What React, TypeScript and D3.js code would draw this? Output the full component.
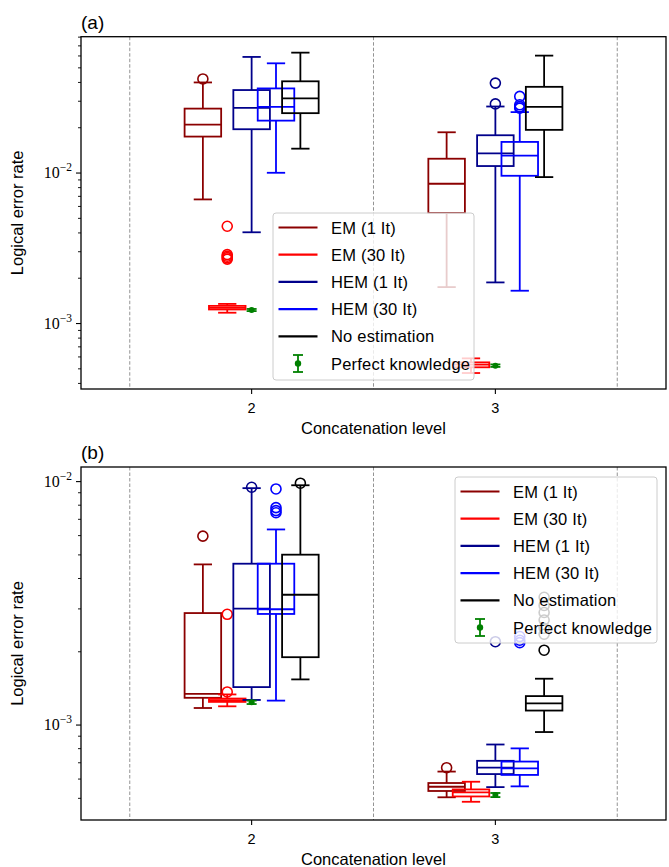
import React from 'react';
import * as d3 from 'd3';

const W = 669;
const H = 867;

const levels = [2, 3];
const levelTickLabels = ['2', '3'];
const separators = [1.5, 2.5, 3.5];
const seriesNames = ['EM (1 It)', 'EM (30 It)', 'HEM (1 It)', 'HEM (30 It)', 'No estimation'];
const seriesColors = ['#8b0000', '#ff0000', '#00008b', '#0000ff', '#000000'];
const seriesOffsets = [-0.2, -0.1, 0, 0.1, 0.2];
const perfectLabel = 'Perfect knowledge';
const perfectColor = '#008000';
const xLabel = 'Concatenation level';
const yLabel = 'Logical error rate';

// [series][level] = [whisker low, q1, median, q3, whisker high]
const statsA: number[][][] = [
  [[0.00668, 0.01747, 0.0210, 0.0268, 0.0400], [0.001746, 0.00543, 0.00849, 0.01245, 0.01866]],
  [[0.00118, 0.00124, 0.00127, 0.00131, 0.00135], [0.000469, 0.000512, 0.000533, 0.000552, 0.000587]],
  [[0.00404, 0.01955, 0.0271, 0.0356, 0.0591], [0.001876, 0.01113, 0.01352, 0.01783, 0.02768]],
  [[0.01004, 0.0223, 0.0275, 0.0365, 0.0536], [0.001652, 0.00959, 0.01304, 0.0161, 0.0254]],
  [[0.01452, 0.0250, 0.0313, 0.0407, 0.0631], [0.0094, 0.01936, 0.0275, 0.0374, 0.0603]],
];
const fliersA: number[][][] = [
  [[0.0422], []],
  [[0.00443, 0.00287, 0.0028, 0.00274, 0.00268], []],
  [[], [0.0396, 0.0288]],
  [[], [0.0323, 0.0284, 0.0276, 0.027]],
  [[], []],
];
const perfectA = [0.00123, 0.000525];
const perfectErrA = [0.00002, 0.00001];

const statsB: number[][][] = [
  [[0.001175, 0.001294, 0.001343, 0.002884, 0.00457], [0.000505, 0.000536, 0.000558, 0.000578, 0.000644]],
  [[0.001194, 0.001245, 0.001265, 0.001285, 0.001336], [0.000484, 0.000509, 0.000529, 0.000544, 0.000585]],
  [[0.001268, 0.001432, 0.00301, 0.0046, 0.0094], [0.000556, 0.000629, 0.000668, 0.000713, 0.000832]],
  [[0.00126, 0.00286, 0.00299, 0.0046, 0.00636], [0.00056, 0.000624, 0.000664, 0.000708, 0.000802]],
  [[0.00154, 0.0019, 0.00343, 0.00501, 0.00966], [0.000936, 0.001147, 0.001228, 0.001315, 0.00155]],
];
const fliersB: number[][][] = [
  [[0.00597], [0.000668]],
  [[0.00285, 0.001368], []],
  [[0.00948], [0.0022]],
  [[0.00933, 0.00782, 0.0076, 0.00745], [0.00231, 0.00223, 0.00218]],
  [[0.00985], [0.00203, 0.00236, 0.0025, 0.0027, 0.0029, 0.0031, 0.00335]],
];
const perfectB = [0.00124, 0.000516];
const perfectErrB = [0.00002, 0.00001];

const SANS = "'Liberation Sans', 'Open Sans', sans-serif";
const SERIF = "'Liberation Serif', 'DejaVu Serif', serif";

type PanelProps = {
  label: string;
  top: number;
  bottom: number;
  yDomain: [number, number];
  stats: number[][][];
  fliers: number[][][];
  perfect: number[];
  perfectErr: number[];
  legend: { x: number; y: number; w: number; h: number };
};

const LEFT = 81;
const RIGHT = 666;

function Panel(p: PanelProps) {
  const x = d3.scaleLinear().domain([1.3, 3.7]).range([LEFT, RIGHT]);
  const y = d3.scaleLog().domain(p.yDomain).range([p.bottom, p.top]);
  const boxW = x(1.3 + 0.15) - x(1.3);
  const capW = boxW / 2;
  const lw = 1.8;

  const [d0, d1] = p.yDomain;
  const majors: number[] = [];
  const minors: number[] = [];
  for (let e = Math.floor(Math.log10(d0)); e <= Math.ceil(Math.log10(d1)); e++) {
    for (let k = 1; k <= 9; k++) {
      const v = k * Math.pow(10, e);
      if (v >= d0 && v <= d1) (k === 1 ? majors : minors).push(v);
    }
  }

  const legendRows = [...seriesNames, perfectLabel];

  return (
    <g>
      <text x={LEFT} y={p.top - 8} fontFamily={SANS} fontSize={19}>{p.label}</text>
      {separators.map((s, i) => (
        <line key={i} x1={x(s)} x2={x(s)} y1={p.top} y2={p.bottom} stroke="#888" strokeWidth={0.9} strokeDasharray="3.5,2" />
      ))}
      {p.stats.map((ser, si) =>
        ser.map((st, li) => {
          const cx = x(levels[li] + seriesOffsets[si]);
          const [lo, q1, med, q3, hi] = st;
          const c = seriesColors[si];
          return (
            <g key={`${si}-${li}`} stroke={c} strokeWidth={lw} fill="none">
              <line x1={cx} x2={cx} y1={y(q3)} y2={y(hi)} />
              <line x1={cx} x2={cx} y1={y(q1)} y2={y(lo)} />
              <line x1={cx - capW / 2} x2={cx + capW / 2} y1={y(hi)} y2={y(hi)} />
              <line x1={cx - capW / 2} x2={cx + capW / 2} y1={y(lo)} y2={y(lo)} />
              <rect x={cx - boxW / 2} y={y(q3)} width={boxW} height={y(q1) - y(q3)} />
              <line x1={cx - boxW / 2} x2={cx + boxW / 2} y1={y(med)} y2={y(med)} />
              {p.fliers[si][li].map((f, fi) => (
                <circle key={fi} cx={cx} cy={y(f)} r={5} strokeWidth={1.6} />
              ))}
            </g>
          );
        })
      )}
      {p.perfect.map((v, li) => {
        const cx = x(levels[li]);
        const e = p.perfectErr[li];
        return (
          <g key={li} stroke={perfectColor} fill={perfectColor} strokeWidth={1.8}>
            <line x1={cx} x2={cx} y1={y(v - e)} y2={y(v + e)} />
            <line x1={cx - 5} x2={cx + 5} y1={y(v - e)} y2={y(v - e)} />
            <line x1={cx - 5} x2={cx + 5} y1={y(v + e)} y2={y(v + e)} />
            <circle cx={cx} cy={y(v)} r={3} stroke="none" />
          </g>
        );
      })}
      <rect x={LEFT} y={p.top} width={RIGHT - LEFT} height={p.bottom - p.top} fill="none" stroke="#000" strokeWidth={1.3} />
      {majors.map((v, i) => (
        <g key={`M${i}`}>
          <line x1={LEFT - 5} x2={LEFT} y1={y(v)} y2={y(v)} stroke="#000" strokeWidth={1.1} />
          <text x={LEFT - 9} y={y(v) + 5} textAnchor="end" fontFamily={SERIF} fontSize={16}>
            10
            <tspan dy={-7} fontSize={11.5}>{`\u2212${Math.round(-Math.log10(v))}`}</tspan>
          </text>
        </g>
      ))}
      {minors.map((v, i) => (
        <line key={`m${i}`} x1={LEFT - 3} x2={LEFT} y1={y(v)} y2={y(v)} stroke="#000" strokeWidth={0.9} />
      ))}
      {levels.map((l, i) => (
        <g key={`x${i}`}>
          <line x1={x(l)} x2={x(l)} y1={p.bottom} y2={p.bottom + 5} stroke="#000" strokeWidth={1.1} />
          <text x={x(l)} y={p.bottom + 24} textAnchor="middle" fontFamily={SANS} fontSize={14.5}>{levelTickLabels[i]}</text>
        </g>
      ))}
      <text x={(LEFT + RIGHT) / 2} y={p.bottom + 45} textAnchor="middle" fontFamily={SANS} fontSize={16.5}>{xLabel}</text>
      <text transform={`translate(23,${(p.top + p.bottom) / 2}) rotate(-90)`} textAnchor="middle" fontFamily={SANS} fontSize={16.5}>{yLabel}</text>
      <g>
        <rect x={p.legend.x} y={p.legend.y} width={p.legend.w} height={p.legend.h} rx={3} fill="#fff" fillOpacity={0.8} stroke="#cccccc" strokeWidth={1} />
        {legendRows.map((name, i) => {
          const cy = p.legend.y + 14.5 + i * 27.2;
          const lx = p.legend.x + 5.5;
          return (
            <g key={i}>
              {i < 5 ? (
                <line x1={lx} x2={lx + 39} y1={cy} y2={cy} stroke={seriesColors[i]} strokeWidth={2.2} />
              ) : (
                <g stroke={perfectColor} fill={perfectColor} strokeWidth={1.8}>
                  <line x1={lx + 19.5} x2={lx + 19.5} y1={cy - 8.5} y2={cy + 8.5} />
                  <line x1={lx + 14.5} x2={lx + 24.5} y1={cy - 8.5} y2={cy - 8.5} />
                  <line x1={lx + 14.5} x2={lx + 24.5} y1={cy + 8.5} y2={cy + 8.5} />
                  <circle cx={lx + 19.5} cy={cy} r={3.2} stroke="none" />
                </g>
              )}
              <text x={p.legend.x + 58} y={cy + 6} fontFamily={SANS} fontSize={16.5} letterSpacing={0.2}>{name}</text>
            </g>
          );
        })}
      </g>
    </g>
  );
}

export default function App() {
  return (
    <svg width={W} height={H} style={{ position: 'absolute', left: 0, top: 0, background: '#fff' }}>
      <rect x={0} y={0} width={W} height={H} fill="#fff" />
      <Panel
        label="(a)"
        top={36.7}
        bottom={389}
        yDomain={[Math.pow(10, -3.435), Math.pow(10, -1.094)]}
        stats={statsA}
        fliers={fliersA}
        perfect={perfectA}
        perfectErr={perfectErrA}
        legend={{ x: 273, y: 213, w: 201, h: 167 }}
      />
      <Panel
        label="(b)"
        top={467}
        bottom={820}
        yDomain={[Math.pow(10, -3.39), Math.pow(10, -1.94)]}
        stats={statsB}
        fliers={fliersB}
        perfect={perfectB}
        perfectErr={perfectErrB}
        legend={{ x: 455, y: 477, w: 202, h: 166 }}
      />
    </svg>
  );
}
